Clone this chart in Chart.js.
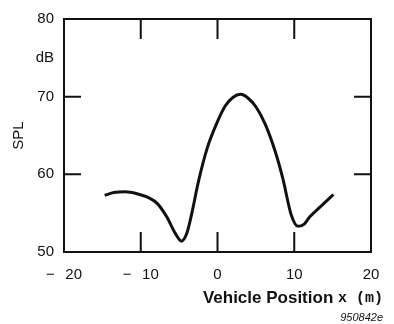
<!DOCTYPE html>
<html>
<head>
<meta charset="utf-8">
<script src="https://cdn.jsdelivr.net/npm/chart.js@4.4.1/dist/chart.umd.min.js"></script>
<style>
    html, body { margin: 0; padding: 0; background: #fff; }
    #wrap { width: 394px; height: 324px; position: relative; }
</style>
</head>
<body>
<div id="wrap"><canvas id="splChart"></canvas></div>
<script>
const positions = [-14.7, -13.5, -12, -10.5, -9, -7.8, -6.6, -5.5, -4.7, -4.0, -3.3, -2.5, -1.3, 0, 1, 2, 3, 4, 5, 6.2, 7.5, 8.5, 9.6, 10.5, 11.3, 12, 13.6, 15.1];
const splValues = [57.3, 57.65, 57.75, 57.5, 57.0, 56.2, 54.5, 52.4, 51.4, 52.4, 55.2, 59.0, 63.5, 66.8, 68.8, 69.9, 70.3, 69.8, 68.7, 66.5, 63.0, 59.5, 54.8, 53.3, 53.6, 54.5, 56.0, 57.4];

// Axis ticks
const xTicks = [-20, -10, 0, 10, 20];
const yTicks = [50, 60, 70, 80];
const innerXTicks = [-10, 0, 10];
const innerYTicks = [60, 70];

const ink = '#111';
const sans = '"Liberation Sans", Arial, sans-serif';

// Frame, inward tick marks and the bottom texts
const framePlugin = {
    id: 'frame',
    afterDraw(chart) {
        const { ctx, chartArea: a, scales } = chart;
        ctx.save();
        ctx.strokeStyle = ink;
        ctx.lineWidth = 2;
        ctx.strokeRect(a.left, a.top, a.right - a.left, a.bottom - a.top);

        innerXTicks.forEach(v => {
            const px = scales.x.getPixelForValue(v);
            ctx.beginPath();
            ctx.moveTo(px, a.top); ctx.lineTo(px, a.top + 20);
            ctx.moveTo(px, a.bottom); ctx.lineTo(px, a.bottom - 20);
            ctx.stroke();
        });
        innerYTicks.forEach(v => {
            const py = scales.y.getPixelForValue(v);
            ctx.beginPath();
            ctx.moveTo(a.left, py); ctx.lineTo(a.left + 17, py);
            ctx.moveTo(a.right, py); ctx.lineTo(a.right - 17, py);
            ctx.stroke();
        });

        // x axis title, mixed fonts like the original
        ctx.fillStyle = ink;
        ctx.textBaseline = 'middle';
        ctx.textAlign = 'right';
        ctx.font = 'bold 15px "Liberation Mono", monospace';
        const unit = 'x (m)';
        const unitW = ctx.measureText(unit).width;
        ctx.fillText(unit, 383, 298);
        ctx.font = 'bold 17px ' + sans;
        ctx.fillText('Vehicle Position ', 383 - unitW, 298);

        // figure number
        ctx.font = 'italic 11px ' + sans;
        ctx.fillText('950842e', 383, 318);
        ctx.restore();
    }
};

new Chart(document.getElementById('splChart'), {
    type: 'scatter',
    data: {
        datasets: [{
            data: positions.map((x, i) => ({ x, y: splValues[i] })),
            showLine: true,
            borderColor: ink,
            borderWidth: 3,
            pointRadius: 0,
            cubicInterpolationMode: 'monotone'
        }]
    },
    options: {
        responsive: true,
        maintainAspectRatio: false,
        animation: false,
        layout: { padding: { top: 17, right: 23, left: 0, bottom: 0 } },
        plugins: { legend: { display: false }, tooltip: { enabled: false } },
        scales: {
            x: {
                type: 'linear',
                min: -20,
                max: 20,
                afterFit: s => { s.height = 72; },
                afterBuildTicks: s => { s.ticks = xTicks.map(v => ({ value: v })); },
                grid: { display: false, drawTicks: false },
                border: { display: false },
                ticks: {
                    color: ink,
                    padding: 14,
                    font: { family: sans, size: 15 },
                    callback: v => v < 0 ? '\u2212\u2002\u2009' + Math.abs(v) : String(v)
                }
            },
            y: {
                min: 50,
                max: 80,
                afterFit: s => { s.width = 64; },
                afterBuildTicks: s => { s.ticks = [50, 60, 70, 75, 80].map(v => ({ value: v })); },
                grid: { display: false, drawTicks: false },
                border: { display: false },
                title: {
                    display: true,
                    text: 'SPL',
                    color: ink,
                    padding: { top: 10, bottom: 0 },
                    font: { family: sans, size: 15 }
                },
                ticks: {
                    color: ink,
                    padding: 10,
                    font: { family: sans, size: 15 },
                    callback: v => yTicks.includes(v) ? String(v) : (v === 75 ? 'dB' : '')
                }
            }
        }
    },
    plugins: [framePlugin]
});
</script>
</body>
</html>
